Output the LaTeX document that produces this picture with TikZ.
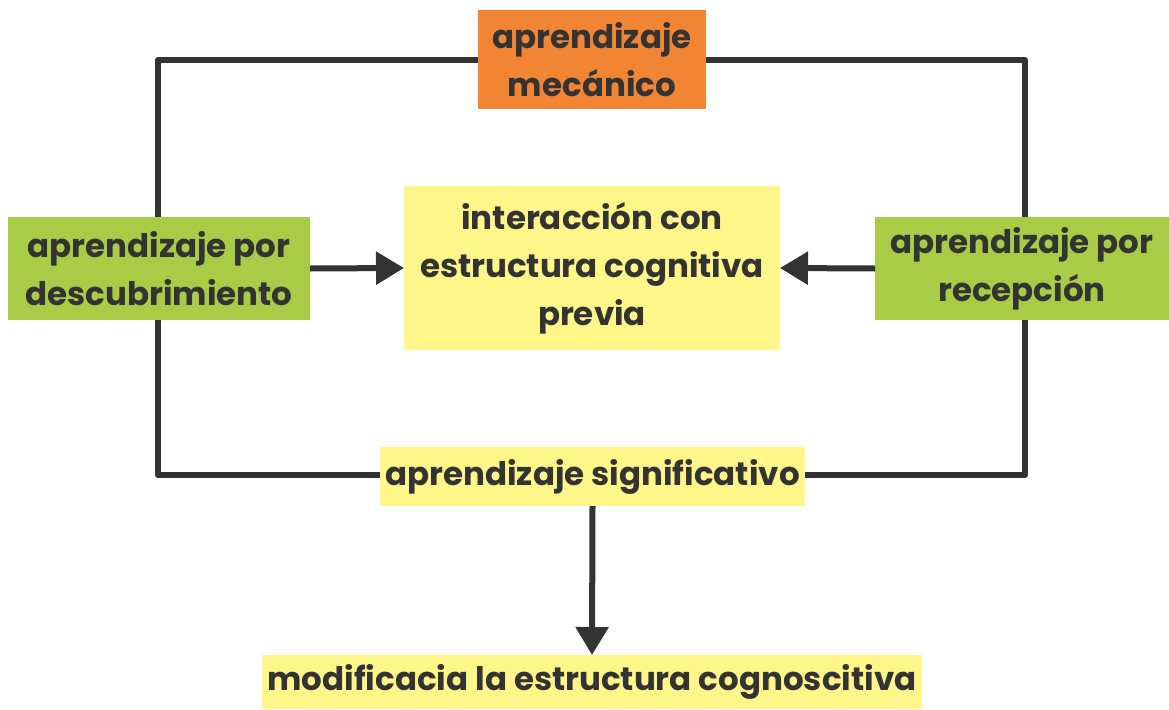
\documentclass[tikz,border=0pt]{standalone}
\usepackage{fontspec}
\setmainfont{Poppins}
\usetikzlibrary{arrows.meta}
\definecolor{ink}{HTML}{333333}
\definecolor{orangebox}{HTML}{F28534}
\definecolor{greenbox}{HTML}{A8CC45}
\definecolor{yellowbox}{HTML}{FFF68A}
\tikzset{
  box/.style={inner sep=0pt, outer sep=0pt, text=ink, align=center,
    font=\fontsize{32.5}{48}\selectfont\bfseries},
  conn/.style={draw=ink, line width=6pt},
  arr/.style={conn, -{Triangle[length=28pt,width=32pt]}},
}
\begin{document}
\begin{tikzpicture}[x=1pt,y=-1pt]
\useasboundingbox (0,0) rectangle (1169,709);
% boxes
\node[box, fill=orangebox, minimum width=228pt, minimum height=99pt] (mec) at (592,59.5) {aprendizaje\\mecánico};
\node[box, fill=greenbox, minimum width=302pt, minimum height=103pt] (desc) at (159,268.5) {aprendizaje por\\descubrimiento};
\node[box, fill=greenbox, minimum width=294pt, minimum height=103pt] (rec) at (1022,268.5) {aprendizaje por\\recepción};
\node[box, fill=yellowbox, minimum width=376pt, minimum height=164pt] (inter) at (592,268) {interacción con\\estructura cognitiva\\previa};
\node[box, fill=yellowbox, minimum width=425pt, minimum height=59pt] (sig) at (592.5,476.5) {aprendizaje significativo};
\node[box, fill=yellowbox, minimum width=660pt, minimum height=54pt] (mod) at (592,682) {modificacia la estructura cognoscitiva};
% frame corners
\coordinate (tl) at (158,60);
\coordinate (tr) at (1025,60);
\coordinate (bl) at (158,475);
\coordinate (br) at (1025,475);
% connectors
\draw[conn, line join=round] (mec.west |- tl) -- (tl) -- (desc.north -| tl);
\draw[conn, line join=round] (mec.east |- tr) -- (tr) -- (rec.north -| tr);
\draw[conn, line join=round] (desc.south -| bl) -- (bl) -- (sig.west |- bl);
\draw[conn, line join=round] (rec.south -| br) -- (br) -- (sig.east |- br);
\draw[arr] (desc.east) -- (inter.west);
\draw[arr] (rec.west) -- (inter.east);
\draw[arr] (sig.south) -- (mod.north);
\end{tikzpicture}
\end{document}
